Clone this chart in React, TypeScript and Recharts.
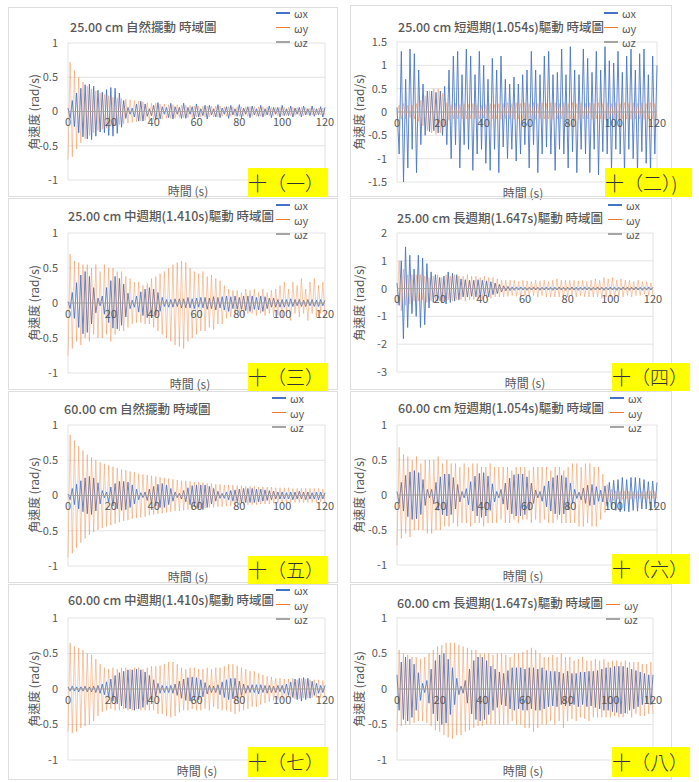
import { LineChart, Line, XAxis, YAxis, CartesianGrid, ReferenceDot } from 'recharts';

// time samples (s)
const T = [0,1,2,3,4,5,6,7,8,9,10,11,12,13,14,15,16,17,18,19,20,21,22,23,24,25,26,27,28,29,30,31,32,33,34,35,36,37,38,39,40,41,42,43,44,45,46,47,48,49,50,51,52,53,54,55,56,57,58,59,60,61,62,63,64,65,66,67,68,69,70,71,72,73,74,75,76,77,78,79,80,81,82,83,84,85,86,87,88,89,90,91,92,93,94,95,96,97,98,99,100,101,102,103,104,105,106,107,108,109,110,111,112,113,114,115,116,117,118,119,120];

const X_TICKS = [0, 20, 40, 60, 80, 100, 120];
const Y_TICKS_1 = [-1, -0.5, 0, 0.5, 1];
const Y_TICKS_15 = [-1.5, -1, -0.5, 0, 0.5, 1, 1.5];
const Y_TICKS_3 = [-3, -2, -1, 0, 1, 2];

const TITLES = [
  '25.00 cm 自然擺動 時域圖',
  '25.00 cm 短週期(1.054s)驅動 時域圖',
  '25.00 cm 中週期(1.410s)驅動 時域圖',
  '25.00 cm 長週期(1.647s)驅動 時域圖',
  '60.00 cm 自然擺動 時域圖',
  '60.00 cm 短週期(1.054s)驅動 時域圖',
  '60.00 cm 中週期(1.410s)驅動 時域圖',
  '60.00 cm 長週期(1.647s)驅動 時域圖',
];
const TAGS = ['十（一）', '十（二）)', '十（三）', '十（四）', '十（五）', '十（六）', '十（七）', '十（八）'];
const SERIES_NAMES = ['ωx', 'ωy', 'ωz'];

// ωz stays on the zero line
const Z_T = [0, 120];
const Z_V = [0, 0];

// 25 cm natural
const P1_X = [
  .05,-.1,.16,-.22,.27,-.31,.34,-.37,.39,-.4,
  .4,-.41,.37,-.36,.31,-.3,.28,-.31,.32,-.35,
  .35,-.36,.34,-.32,.27,-.23,.16,-.1,.06,-.04,
  .05,-.08,.11,-.14,.15,-.14,.11,-.07,.04,-.06,
  .09,-.12,.13,-.11,.07,-.04,.06,-.09,.12,-.11,
  .07,-.04,.06,-.1,.12,-.1,.06,-.04,.07,-.1,
  .11,-.08,.04,-.06,.09,-.11,.09,-.05,.04,-.08,
  .1,-.09,.05,-.04,.07,-.1,.09,-.05,.04,-.07,
  .1,-.09,.05,-.04,.07,-.09,.08,-.05,.04,-.07,
  .09,-.08,.04,-.05,.08,-.09,.06,-.04,.06,-.08,
  .09,-.06,.04,-.06,.08,-.08,.05,-.04,.06,-.08,
  .08,-.05,.04,-.06,.08,-.07,.04,-.05,.07,-.08,
  .06,
];
const P1_Y = [
  -.7,.72,-.66,.6,-.55,.5,-.46,.43,-.4,.37,
  -.35,.33,-.31,.3,-.28,.27,-.26,.25,-.24,.23,
  -.22,.21,-.21,.2,-.19,.19,-.18,.18,-.17,.17,
  -.16,.16,-.15,.15,-.14,.14,-.13,.13,-.13,.12,
  -.12,.12,-.11,.11,-.11,.11,-.1,.1,-.1,.1,
  -.1,.1,-.09,.09,-.09,.09,-.09,.09,-.09,.08,
  -.08,.08,-.08,.08,-.08,.08,-.08,.08,-.08,.08,
  -.08,.08,-.07,.07,-.07,.07,-.07,.07,-.07,.07,
  -.07,.07,-.07,.07,-.07,.07,-.07,.07,-.07,.07,
  -.07,.07,-.06,.06,-.06,.06,-.06,.06,-.06,.06,
  -.06,.06,-.06,.06,-.06,.06,-.06,.06,-.06,.06,
  -.06,.06,-.05,.05,-.05,.05,-.05,.05,-.05,.05,
  -.05,
];

// 25 cm short period
const P2_X = [
  .1,-.9,1.3,-1.5,.7,-1.2,1.35,-.8,1.25,-1.3,
  .9,-.7,.6,-.5,.45,-.42,.45,-.4,.42,-.45,
  .45,-.5,.55,-.7,.9,-1.0,1.2,-.7,1.3,-1.2,
  .8,-.7,1.35,-.8,1.2,-1.25,.8,-.9,1.3,-.8,
  1.0,-1.1,.7,-1.25,1.15,-.8,.9,-1.3,1.2,-.75,
  .7,-1.0,.6,-.8,.75,-1.05,.6,-.9,.8,-.7,
  .9,-1.2,1.3,-.7,.9,-1.3,.8,-.9,1.2,-.75,
  1.3,-.9,.8,-1.25,.85,-.8,1.35,-.9,.8,-1.2,
  1.4,-.85,.9,-1.3,.8,-.8,1.35,-.9,1.15,-1.3,
  .85,-.8,1.3,-1.35,.9,-.85,1.4,-.9,1.1,-1.25,
  1.05,-.8,1.3,-.9,.85,-1.3,1.2,-.8,1.35,-1.0,
  .9,-1.3,1.25,-.85,1.35,-1.1,.8,-1.3,1.2,-.9,
  1.0,
];
const P2_Y = [
  -.05,.15,-.15,.18,-.15,.15,-.12,.15,-.15,.18,
  -.2,.25,-.3,.35,-.4,.45,-.45,.5,-.48,.5,
  -.45,.4,-.3,.2,-.18,.16,-.15,.18,-.15,.16,
  -.15,.18,-.15,.16,-.14,.18,-.15,.16,-.15,.14,
  -.13,.16,-.15,.18,-.15,.16,-.15,.18,-.16,.18,
  -.15,.2,-.15,.18,-.16,.2,-.15,.18,-.15,.2,
  -.16,.18,-.15,.2,-.16,.18,-.15,.2,-.15,.18,
  -.15,.2,-.16,.2,-.15,.18,-.15,.2,-.16,.18,
  -.15,.2,-.15,.18,-.16,.2,-.15,.18,-.15,.2,
  -.16,.18,-.15,.2,-.15,.18,-.16,.2,-.15,.18,
  -.15,.2,-.16,.18,-.15,.2,-.15,.18,-.16,.2,
  -.15,.18,-.15,.2,-.16,.18,-.15,.2,-.15,.18,
  -.15,
];

// 25 cm medium period
const P3_X = [
  .02,-.08,.15,-.22,.29,-.35,.4,-.44,.45,-.42,
  .38,-.3,.22,-.14,.07,-.04,.1,-.16,.22,-.28,
  .32,-.36,.38,-.37,.35,-.32,.27,-.2,.14,-.08,
  .04,-.06,.1,-.13,.16,-.18,.2,-.21,.22,-.21,
  .2,-.18,.15,-.12,.08,-.05,.05,-.06,.05,-.06,
  .06,-.05,.06,-.07,.06,-.07,.08,-.07,.06,-.08,
  .07,-.06,.08,-.07,.08,-.09,.07,-.08,.09,-.1,
  .08,-.07,.09,-.1,.1,-.12,.09,-.08,.1,-.09,
  .08,-.09,.1,-.11,.1,-.12,.1,-.09,.08,-.1,
  .1,-.12,.09,-.08,.07,-.06,.07,-.06,.05,-.06,
  .05,-.06,.05,-.05,.06,-.05,.05,-.04,.05,-.05,
  .04,-.05,.05,-.04,.05,-.05,.04,-.05,.05,-.04,
  .04,
];
const P3_Y = [
  -.75,.7,-.65,.6,-.55,.58,-.6,.55,-.5,.55,
  -.55,.5,-.45,.55,-.5,.45,-.5,.55,-.45,.5,
  -.55,.5,-.45,.45,-.4,.45,-.4,.38,-.35,.35,
  -.3,.3,-.28,.3,-.28,.25,-.3,.28,-.3,.35,
  -.35,.38,-.4,.42,-.45,.45,-.5,.5,-.55,.55,
  -.6,.58,-.62,.6,-.65,.58,-.55,.5,-.5,.45,
  -.45,.42,-.4,.45,-.4,.38,-.35,.4,-.38,.35,
  -.3,.32,-.3,.25,-.22,.2,-.2,.18,-.15,.18,
  -.18,.15,-.18,.2,-.15,.18,-.15,.2,-.18,.15,
  -.15,.2,-.18,.15,-.15,.18,-.2,.2,-.18,.25,
  -.2,.3,-.15,.2,-.25,.3,-.15,.25,-.2,.35,
  -.15,.2,-.25,.3,-.15,.35,-.2,.25,-.15,.3,
  -.2,
];

// 25 cm long period
const P4_X = [
  .2,-.6,1.0,-1.8,1.5,-1.4,1.2,-.9,.7,-1.0,
  1.2,-1.4,1.1,-1.3,.9,-.7,.6,-.5,.5,-.45,
  .4,-.5,.45,-.55,.6,-.5,.55,-.45,.5,-.4,
  .35,-.3,.32,-.3,.3,-.28,.3,-.3,.32,-.28,
  .3,-.25,.28,-.3,.25,-.22,.2,-.18,.15,-.12,
  .1,-.08,.08,-.07,.06,-.06,.06,-.05,.06,-.05,
  .05,-.06,.05,-.05,.06,-.05,.05,-.06,.05,-.05,
  .06,-.05,.05,-.06,.05,-.05,.06,-.05,.05,-.06,
  .05,-.05,.06,-.05,.05,-.06,.05,-.05,.06,-.05,
  .05,-.06,.05,-.05,.06,-.05,.05,-.06,.05,-.05,
  .06,-.05,.05,-.06,.05,-.05,.06,-.05,.05,-.06,
  .05,-.05,.06,-.05,.05,-.06,.05,-.05,.06,-.05,
  .05,
];
const P4_Y = [
  -.6,1.0,-.8,.7,-.6,.5,-.55,.5,-.45,.5,
  -.45,.5,-.4,.45,-.5,.4,-.45,.45,-.4,.5,
  -.45,.4,-.45,.5,-.4,.45,-.45,.5,-.4,.45,
  -.4,.45,-.45,.5,-.4,.45,-.4,.45,-.4,.4,
  -.4,.45,-.35,.4,-.35,.4,-.3,.35,-.3,.3,
  -.3,.3,-.28,.3,-.25,.3,-.28,.25,-.3,.3,
  -.25,.28,-.3,.25,-.25,.3,-.3,.28,-.25,.3,
  -.3,.25,-.3,.3,-.3,.35,-.3,.3,-.35,.3,
  -.3,.3,-.25,.3,-.3,.28,-.25,.3,-.3,.25,
  -.3,.3,-.3,.35,-.3,.3,-.35,.4,-.3,.35,
  -.3,.4,-.35,.3,-.3,.35,-.3,.3,-.25,.3,
  -.3,.25,-.25,.3,-.25,.25,-.2,.25,-.25,.2,
  -.2,
];

// 60 cm natural
const P5_X = [
  .02,-.06,.1,-.13,.16,-.19,.21,-.23,.25,-.26,
  .27,-.27,.25,-.22,.18,-.12,.07,-.03,.05,-.09,
  .12,-.15,.17,-.19,.2,-.21,.2,-.2,.19,-.17,
  .15,-.12,.09,-.06,.04,-.03,.05,-.07,.09,-.11,
  .13,-.15,.16,-.17,.17,-.17,.15,-.13,.1,-.08,
  .05,-.03,.03,-.05,.07,-.09,.11,-.13,.14,-.16,
  .15,-.18,.15,-.2,.15,-.17,.13,-.12,.1,-.08,
  .06,-.04,.03,-.04,.05,-.06,.07,-.08,.08,-.09,
  .09,-.1,.1,-.1,.1,-.1,.1,-.1,.09,-.09,
  .09,-.08,.08,-.07,.07,-.06,.06,-.05,.05,-.05,
  .05,-.05,.04,-.05,.05,-.06,.05,-.05,.06,-.05,
  .05,-.06,.05,-.05,.04,-.05,.05,-.06,.05,-.05,
  .04,
];
const P5_Y = [
  -.88,.86,-.82,.78,-.74,.7,-.67,.64,-.61,.58,
  -.56,.54,-.52,.5,-.49,.47,-.46,.45,-.44,.43,
  -.42,.41,-.4,.39,-.38,.37,-.36,.36,-.35,.34,
  -.33,.33,-.32,.31,-.31,.3,-.3,.29,-.28,.28,
  -.27,.27,-.26,.26,-.25,.25,-.24,.24,-.23,.23,
  -.22,.22,-.22,.21,-.21,.21,-.2,.2,-.2,.19,
  -.19,.19,-.18,.18,-.18,.17,-.17,.17,-.17,.16,
  -.16,.16,-.16,.15,-.15,.15,-.15,.15,-.14,.14,
  -.14,.14,-.14,.13,-.13,.13,-.13,.13,-.13,.12,
  -.12,.12,-.12,.12,-.12,.12,-.11,.11,-.11,.11,
  -.11,.11,-.11,.11,-.1,.1,-.1,.1,-.1,.1,
  -.1,.1,-.1,.1,-.1,.1,-.1,.1,-.09,.09,
  -.09,
];

// 60 cm short period
const P6_X = [
  .05,-.12,.18,-.23,.28,-.31,.33,-.35,.35,-.34,
  .32,-.28,.22,-.15,.08,-.04,.08,-.13,.18,-.22,
  .26,-.28,.3,-.3,.3,-.28,.25,-.2,.15,-.1,
  .05,-.04,.09,-.14,.19,-.23,.27,-.3,.31,-.32,
  .32,-.3,.27,-.22,.16,-.1,.05,-.04,.08,-.13,
  .17,-.21,.24,-.27,.29,-.3,.3,-.3,.3,-.28,
  .26,-.22,.17,-.12,.07,-.04,.05,-.09,.13,-.17,
  .2,-.23,.25,-.27,.28,-.28,.28,-.27,.25,-.21,
  .17,-.12,.08,-.05,.04,-.07,.1,-.12,.14,-.15,
  .15,-.14,.12,-.09,.07,-.1,.13,-.16,.18,-.2,
  .21,-.22,.22,-.24,.25,-.23,.22,-.24,.25,-.22,
  .25,-.23,.24,-.2,.22,-.2,.19,-.22,.2,-.18,
  .18,
];
const P6_Y = [
  -.72,.68,-.62,.58,-.55,.55,-.6,.5,-.5,.55,
  -.5,.45,-.5,.5,-.55,.5,-.55,.5,-.5,.55,
  -.5,.45,-.45,.5,-.45,.45,-.4,.45,-.45,.4,
  -.4,.45,-.4,.4,-.45,.45,-.4,.45,-.4,.4,
  -.45,.4,-.4,.45,-.4,.4,-.4,.4,-.35,.4,
  -.4,.4,-.4,.35,-.35,.4,-.4,.4,-.35,.4,
  -.35,.35,-.4,.4,-.35,.4,-.4,.4,-.35,.4,
  -.4,.35,-.4,.4,-.35,.4,-.4,.35,-.4,.4,
  -.4,.45,-.4,.45,-.45,.4,-.45,.45,-.4,.45,
  -.45,.4,-.45,.4,-.35,.3,-.25,.15,-.1,.08,
  -.08,.06,-.06,.05,-.06,.05,-.05,.05,-.06,.05,
  -.05,.05,-.05,.05,-.06,.05,-.05,.05,-.05,.05,
  -.05,
];

// 60 cm medium period
const P7_X = [
  .03,-.03,.04,-.03,.03,-.04,.03,-.03,.04,-.04,
  .03,-.04,.04,-.05,.05,-.06,.07,-.08,.1,-.12,
  .14,-.17,.19,-.21,.23,-.24,.25,-.27,.27,-.28,
  .27,-.3,.28,-.28,.27,-.26,.24,-.22,.19,-.16,
  .13,-.1,.08,-.06,.05,-.05,.04,-.05,.05,-.06,
  .07,-.09,.11,-.13,.14,-.16,.16,-.17,.17,-.16,
  .16,-.15,.13,-.11,.09,-.07,.05,-.05,.04,-.05,
  .06,-.08,.1,-.12,.13,-.15,.15,-.14,.15,-.13,
  .11,-.09,.07,-.06,.05,-.05,.06,-.05,.06,-.07,
  .06,-.05,.05,-.06,.05,-.05,.04,-.05,.05,-.04,
  .05,-.06,.07,-.09,.1,-.12,.14,-.15,.15,-.17,
  .16,-.15,.15,-.13,.11,-.09,.08,-.06,.05,-.05,
  .05,
];
const P7_Y = [
  -.6,.65,-.62,.6,-.6,.58,-.55,.55,-.52,.5,
  -.5,.48,-.45,.42,-.38,.35,-.32,.3,-.3,.28,
  -.28,.3,-.3,.28,-.3,.3,-.28,.3,-.3,.28,
  -.3,.3,-.28,.3,-.3,.28,-.3,.3,-.3,.32,
  -.3,.32,-.35,.33,-.35,.35,-.38,.38,-.4,.38,
  -.38,.35,-.33,.3,-.3,.28,-.3,.3,-.28,.3,
  -.3,.28,-.3,.28,-.28,.3,-.3,.28,-.25,.3,
  -.28,.3,-.3,.32,-.3,.35,-.32,.35,-.35,.33,
  -.32,.3,-.3,.28,-.28,.25,-.25,.25,-.25,.22,
  -.22,.2,-.2,.18,-.18,.17,-.16,.15,-.15,.15,
  -.15,.14,-.15,.14,-.14,.15,-.14,.13,-.14,.15,
  -.13,.14,-.13,.13,-.12,.13,-.12,.13,-.12,.12,
  -.12,
];

// 60 cm long period
const P8_X = [
  .2,-.3,.38,-.43,.45,-.45,.42,-.4,.35,-.3,
  .23,-.16,.08,-.05,.12,-.2,.28,-.35,.4,-.45,
  .48,-.5,.5,-.48,.42,-.36,.3,-.22,.15,-.08,
  .04,-.06,.12,-.2,.28,-.35,.4,-.43,.45,-.45,
  .45,-.43,.4,-.36,.32,-.3,.28,-.26,.24,-.22,
  .22,-.24,.26,-.28,.3,-.3,.3,-.28,.3,-.3,
  .28,-.3,.3,-.28,.3,-.3,.28,-.3,.3,-.28,
  .26,-.25,.25,-.24,.25,-.25,.24,-.22,.22,-.24,
  .25,-.24,.22,-.22,.22,-.25,.24,-.22,.24,-.25,
  .25,-.24,.25,-.26,.26,-.28,.28,-.3,.3,-.3,
  .3,-.32,.32,-.33,.32,-.35,.32,-.34,.3,-.3,
  .28,-.28,.26,-.25,.24,-.22,.22,-.2,.2,-.22,
  .2,
];
const P8_Y = [
  -.6,.55,-.52,.5,-.5,.48,-.5,.45,-.48,.45,
  -.45,.42,-.45,.45,-.48,.5,-.52,.55,-.58,.6,
  -.6,.62,-.65,.65,-.68,.65,-.7,.65,-.65,.62,
  -.65,.6,-.6,.58,-.58,.55,-.55,.55,-.52,.5,
  -.52,.5,-.5,.5,-.5,.48,-.5,.5,-.5,.5,
  -.5,.48,-.5,.45,-.45,.5,-.5,.5,-.5,.52,
  -.55,.55,-.55,.58,-.6,.55,-.55,.5,-.5,.45,
  -.5,.45,-.45,.48,-.5,.45,-.45,.5,-.55,.45,
  -.45,.45,-.42,.4,-.45,.42,-.4,.45,-.42,.4,
  -.45,.4,-.4,.42,-.4,.4,-.4,.42,-.4,.38,
  -.4,.4,-.38,.4,-.4,.38,-.4,.4,-.35,.38,
  -.4,.38,-.35,.38,-.38,.35,-.38,.35,-.35,.38,
  -.35,
];

const PANELS = [
  { x: P1_X, y: P1_Y, yTicks: Y_TICKS_1 },
  { x: P2_X, y: P2_Y, yTicks: Y_TICKS_15 },
  { x: P3_X, y: P3_Y, yTicks: Y_TICKS_1 },
  { x: P4_X, y: P4_Y, yTicks: Y_TICKS_3 },
  { x: P5_X, y: P5_Y, yTicks: Y_TICKS_1 },
  { x: P6_X, y: P6_Y, yTicks: Y_TICKS_1 },
  { x: P7_X, y: P7_Y, yTicks: Y_TICKS_1 },
  { x: P8_X, y: P8_Y, yTicks: Y_TICKS_1 },
];

// page layout: frame [x,y,w,h], plot [x,y,w,h], anchors for texts
const LAYOUT = [
  { frame: [8, 7, 330, 190], plot: [68, 43, 257, 137], title: [70, 27], legend: [294, 13], yTitle: [33, 112], xTitle: [188, 190], tag: [248, 168, 80, 29] },
  { frame: [350, 5, 322, 192], plot: [397, 42, 260, 140], title: [398, 27], legend: [622, 13], yTitle: [358, 112], xTitle: [523, 192], tag: [605, 168, 87, 29] },
  { frame: [8, 198, 330, 192], plot: [68, 233, 257, 140], title: [68, 216], legend: [294, 205], yTitle: [33, 303], xTitle: [190, 383], tag: [248, 363, 80, 28] },
  { frame: [350, 198, 322, 192], plot: [397, 233, 256, 139], title: [397, 218], legend: [626, 205], yTitle: [358, 303], xTitle: [525, 382], tag: [612, 363, 78, 28] },
  { frame: [8, 391, 330, 192], plot: [68, 425, 257, 141], title: [64, 409], legend: [290, 398], yTitle: [33, 495], xTitle: [188, 576], tag: [248, 556, 80, 28] },
  { frame: [350, 391, 322, 192], plot: [397, 425, 260, 140], title: [398, 408], legend: [628, 398], yTitle: [358, 495], xTitle: [523, 575], tag: [612, 554, 78, 30] },
  { frame: [8, 584, 330, 196], plot: [68, 618, 257, 142], title: [68, 600], legend: [294, 590], yTitle: [33, 689], xTitle: [197, 770], tag: [248, 747, 80, 30] },
  { frame: [350, 584, 322, 196], plot: [397, 618, 256, 142], title: [397, 603], legend: [624, 590], yTitle: [358, 689], xTitle: [523, 770], tag: [612, 747, 78, 30] },
];

const COLORS = ['#4472c4', '#ed7d31', '#a5a5a5'];
const TEXT = '#595959';

function Panel({ idx }: { idx: number }) {
  const p = PANELS[idx];
  const l = LAYOUT[idx];
  const rows = T.map((t, i) => ({ t, x: p.x[i], y: p.y[i] }));
  const zRows = Z_T.map((t, i) => ({ t, z: Z_V[i] }));
  const [px, py, pw, ph] = l.plot;
  const yMin = p.yTicks[0];
  const yMax = p.yTicks[p.yTicks.length - 1];

  return (
    <>
      <div
        style={{
          position: 'absolute',
          left: l.frame[0],
          top: l.frame[1],
          width: l.frame[2],
          height: l.frame[3],
          border: '1px solid #dedede',
          boxSizing: 'border-box',
        }}
      />
      <div style={{ position: 'absolute', left: px - 40, top: py - 10 }}>
        <LineChart width={pw + 55} height={ph + 20} data={rows} margin={{ top: 10, right: 15, bottom: 10, left: 0 }}>
          <CartesianGrid stroke="#dcdcdc" strokeWidth={0.8} />
          <XAxis dataKey="t" type="number" domain={[0, 120]} ticks={X_TICKS} tick={false} tickLine={false} axisLine={false} height={0} />
          <YAxis
            type="number"
            domain={[yMin, yMax]}
            ticks={p.yTicks}
            interval={0}
            width={40}
            tick={{ fontSize: 11, fill: TEXT }}
            tickLine={false}
            axisLine={false}
            tickMargin={4}
            allowDataOverflow
          />
          <Line dataKey="x" stroke={COLORS[0]} strokeWidth={1} strokeOpacity={0.85} dot={false} isAnimationActive={false} />
          <Line dataKey="y" stroke={COLORS[1]} strokeWidth={1} strokeOpacity={0.4} dot={false} isAnimationActive={false} />
          <Line data={zRows} dataKey="z" stroke={COLORS[2]} strokeWidth={1} dot={false} isAnimationActive={false} />
          {X_TICKS.map((t) => (
            <ReferenceDot
              key={t}
              x={t}
              y={0}
              r={1}
              fill="none"
              stroke="none"
              label={{ value: String(t), position: 'bottom', offset: 6, fontSize: 11, fill: TEXT }}
            />
          ))}
        </LineChart>
      </div>
      <div
        style={{
          position: 'absolute',
          left: l.title[0],
          top: l.title[1] - 9,
          fontSize: 12.5,
          lineHeight: '18px',
          color: TEXT,
          whiteSpace: 'nowrap',
          fontWeight: 500,
        }}
      >
        {TITLES[idx]}
      </div>
      {SERIES_NAMES.map((name, i) =>
        idx === 7 && i === 0 ? null : (
          <div
            key={name}
            style={{
              position: 'absolute',
              left: l.legend[0] - 18,
              top: l.legend[1] + i * 14.5 - 7,
              height: 14,
              display: 'flex',
              alignItems: 'center',
            }}
          >
            <span style={{ display: 'inline-block', width: 14, height: 1.5, background: COLORS[i], marginRight: 4 }} />
            <span style={{ fontSize: 11, lineHeight: '14px', color: TEXT }}>{name}</span>
          </div>
        )
      )}
      <div
        style={{
          position: 'absolute',
          left: l.yTitle[0],
          top: l.yTitle[1],
          transform: 'translate(-50%, -50%) rotate(-90deg)',
          fontSize: 12,
          color: TEXT,
          whiteSpace: 'nowrap',
        }}
      >
        角速度 (rad/s)
      </div>
      <div
        style={{
          position: 'absolute',
          left: l.xTitle[0],
          top: l.xTitle[1],
          transform: 'translate(-50%, -50%)',
          fontSize: 12,
          color: TEXT,
          whiteSpace: 'nowrap',
        }}
      >
        時間 (s)
      </div>
      <div
        style={{
          position: 'absolute',
          left: l.tag[0],
          top: l.tag[1],
          width: l.tag[2],
          height: l.tag[3],
          background: '#ffff00',
          color: '#333',
          fontSize: 19,
          lineHeight: `${l.tag[3]}px`,
          whiteSpace: 'nowrap',
          fontWeight: 300,
        }}
      >
        {TAGS[idx]}
      </div>
    </>
  );
}

export default function App() {
  return (
    <div
      style={{
        position: 'absolute',
        left: 0,
        top: 0,
        width: 699,
        height: 782,
        background: '#fff',
        overflow: 'hidden',
        fontFamily: '"Noto Sans CJK TC", "Noto Sans", sans-serif',
      }}
    >
      {PANELS.map((_, i) => (
        <Panel key={i} idx={i} />
      ))}
    </div>
  );
}
